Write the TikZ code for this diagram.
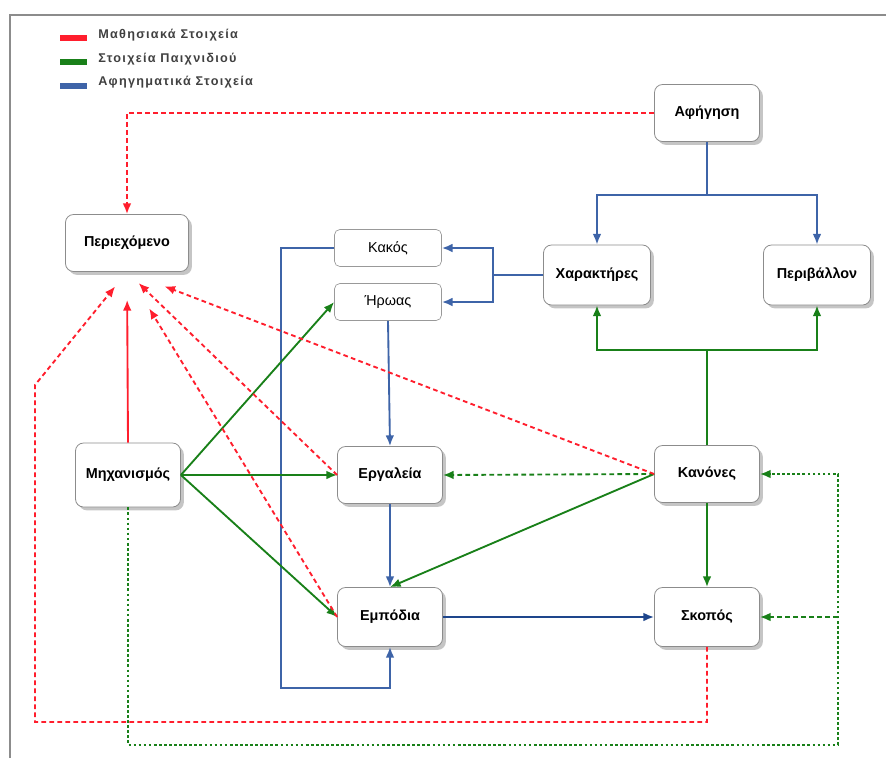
\documentclass[tikz,border=0pt]{standalone}
\usepackage{fontspec}
\setmainfont{Liberation Sans}
\newfontfamily\legendfont[LetterSpace=10]{Liberation Sans}
\usetikzlibrary{arrows.meta,shadows}
\definecolor{learnred}{RGB}{255,30,45}
\definecolor{gamegreen}{RGB}{25,128,25}
\definecolor{storyblue}{RGB}{62,100,168}
\definecolor{darkblue}{RGB}{30,70,140}
\tikzset{
  box/.style={draw=black!45,fill=white,rounded corners=6pt,line width=0.6pt,inner sep=0pt,
    minimum width=78.75pt,minimum height=42.75pt,font=\bfseries\fontsize{10.8}{13}\selectfont,
    drop shadow={shadow xshift=2.5pt,shadow yshift=-2.5pt,fill=black!45}},
  thinbox/.style={draw=black!40,fill=white,rounded corners=4pt,line width=0.5pt,inner sep=0pt,
    minimum width=80.25pt,minimum height=27.75pt,font=\fontsize{10.8}{13}\selectfont},
  legend/.style={anchor=west,inner sep=0pt,text=black!75,font=\legendfont\bfseries\fontsize{9.5}{11}\selectfont},
  tip/.style={-{Latex[length=8pt,width=6.5pt]}},
  learn/.style={learnred,line width=1.4pt},
  learndash/.style={learn,dash pattern=on 3.5pt off 2.5pt},
  game/.style={gamegreen,line width=1.4pt},
  gamedash/.style={game,dash pattern=on 3.5pt off 2.5pt},
  gamedot/.style={game,dash pattern=on 2pt off 1.8pt},
  story/.style={storyblue,line width=1.4pt}
}
\begin{document}
\begin{tikzpicture}[x=0.75pt,y=0.75pt,yscale=-1,xscale=1]
\useasboundingbox (0,0) rectangle (886,758);
%frame
\draw [black!45,line width=0.8pt] (10,758) -- (10,15) -- (886,15);

%legend
\draw [learnred,line width=4.5pt] (60,38) -- (87,38);
\draw [gamegreen,line width=4.5pt] (60,62) -- (87,62);
\draw [storyblue,line width=4.5pt] (60,86) -- (87,86);
\node [legend] (legred) at (98,35) {Μαθησιακά Στοιχεία};
\node [legend] (leggreen) at (98,59) {Στοιχεία Παιχνιδιού};
\node [legend] (legblue) at (98,82) {Αφηγηματικά Στοιχεία};

%boxes
\node [box] (afi) at (707,113) {Αφήγηση};
\node [box,minimum width=80.25pt,minimum height=45pt] (xar) at (597,275) {Χαρακτήρες};
\node [box,minimum width=80.25pt,minimum height=45pt] (per) at (817,275) {Περιβάλλον};
\node [box,minimum width=92.25pt] (peri) at (127,243) {Περιεχόμενο};
\node [thinbox] (kak) at (388,248) {Κακός};
\node [thinbox] (iro) at (388,302) {Ήρωας};
\node [box,minimum height=48pt] (mech) at (128,475) {Μηχανισμός};
\node [box] (erg) at (390,475) {Εργαλεία};
\node [box,minimum height=44.25pt] (emp) at (390,617) {Εμπόδια};
\node [box] (kan) at (707,474) {Κανόνες};
\node [box,minimum height=44.25pt] (sko) at (707,617) {Σκοπός};

%bends
\coordinate (bj) at (707,195);
\coordinate (hj) at (493,275);
\coordinate (kb) at (281,688);
\coordinate (gj) at (707,350);
\coordinate (rl) at (35,722);
\coordinate (ru) at (35,385);
\coordinate (gb) at (838,745);

%narrative
\draw [story] (afi.south) -- (bj);
\draw [story,tip] (bj) -| (xar.north);
\draw [story,tip] (bj) -| (per.north);
\draw [story] (xar.west) -- (hj);
\draw [story,tip] (hj) |- (kak.east);
\draw [story,tip] (hj) |- (iro.east);
\draw [story,tip] (kak.west) -| (kb) -| (emp.south);
\draw [story,tip] (iro.south) -- (erg.north);
\draw [story,tip] (erg.south) -- (emp.north);
\draw [story,darkblue,tip] (emp.east) -- (sko.west);

%game
\draw [game,tip] (mech.east) -- (iro.west);
\draw [game,tip] (mech.east) -- (erg.west);
\draw [game,tip] (mech.east) -- (emp.west);
\draw [game] (kan.north) -- (gj);
\draw [game,tip] (gj) -| (xar.south);
\draw [game,tip] (gj) -| (per.south);
\draw [game,tip] (kan.west) -- (emp.north);
\draw [game,tip] (kan.south) -- (sko.north);
\draw [gamedash,tip] (kan.west) -- (erg.east);
\draw [gamedot,tip] (mech.south) |- (gb) |- (kan.east);
\draw [gamedash,tip] (gb |- sko.east) -- (sko.east);

%learning
\draw [learndash,tip] (afi.west) -| (peri.north);
\draw [learn,tip,shorten >=21pt] (mech.north) -- (peri.south);
\draw [learndash,tip,shorten >=12pt] (erg.west) -- (peri.south);
\draw [learndash,tip,shorten >=32pt] (emp.west) -- (peri.south);
\draw [learndash,tip,shorten >=30pt] (kan.west) -- (peri.south);
\draw [learndash,tip,shorten >=14pt] (sko.south) |- (rl) -- (ru) -- (peri.south);

\end{tikzpicture}
\end{document}
